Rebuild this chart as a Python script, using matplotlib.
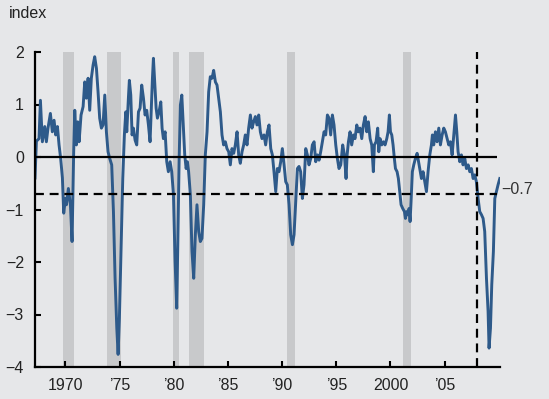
import numpy as np
import matplotlib
matplotlib.use('Agg')
import matplotlib.pyplot as plt

# index values (decimal year, index)
years = [1967.19, 1967.32, 1967.56, 1967.69, 1967.87, 1968.09, 1968.24, 1968.39, 1968.61, 1968.79,
         1968.95, 1969.10, 1969.26, 1969.41, 1969.56, 1969.72, 1969.84, 1970.00, 1970.09, 1970.27,
         1970.46, 1970.61, 1970.76, 1970.86, 1971.01, 1971.13, 1971.26, 1971.44, 1971.63, 1971.78,
         1971.93, 1972.09, 1972.24, 1972.39, 1972.55, 1972.70, 1972.86, 1973.01, 1973.16, 1973.32,
         1973.47, 1973.63, 1973.78, 1973.93, 1974.09, 1974.27, 1974.43, 1974.58, 1974.74, 1974.86,
         1974.98, 1975.14, 1975.29, 1975.44, 1975.57, 1975.66, 1975.81, 1975.90, 1976.03, 1976.15,
         1976.27, 1976.43, 1976.58, 1976.74, 1976.89, 1977.04, 1977.20, 1977.35, 1977.50, 1977.66,
         1977.81, 1977.94, 1978.03, 1978.12, 1978.24, 1978.37, 1978.49, 1978.64, 1978.80, 1978.92,
         1979.04, 1979.20, 1979.35, 1979.50, 1979.66, 1979.81, 1979.97, 1980.12, 1980.27, 1980.37,
         1980.49, 1980.61, 1980.74, 1980.89, 1981.01, 1981.14, 1981.26, 1981.37, 1981.53, 1981.68,
         1981.84, 1981.99, 1982.14, 1982.30, 1982.45, 1982.60, 1982.76, 1982.91, 1983.07, 1983.22,
         1983.37, 1983.53, 1983.68, 1983.84, 1983.99, 1984.14, 1984.30, 1984.45, 1984.60, 1984.76,
         1984.91, 1985.07, 1985.22, 1985.37, 1985.53, 1985.68, 1985.84, 1985.99, 1986.14, 1986.30,
         1986.45, 1986.60, 1986.76, 1986.91, 1987.07, 1987.22, 1987.37, 1987.53, 1987.68, 1987.84,
         1987.99, 1988.14, 1988.33, 1988.48, 1988.64, 1988.79, 1988.95, 1989.10, 1989.25, 1989.41,
         1989.56, 1989.71, 1989.87, 1990.02, 1990.18, 1990.33, 1990.48, 1990.64, 1990.79, 1990.95,
         1991.10, 1991.25, 1991.41, 1991.56, 1991.71, 1991.87, 1992.02, 1992.18, 1992.33, 1992.48,
         1992.64, 1992.79, 1992.95, 1993.10, 1993.25, 1993.41, 1993.56, 1993.71, 1993.87, 1994.02,
         1994.18, 1994.33, 1994.48, 1994.64, 1994.79, 1994.95, 1995.10, 1995.25, 1995.41, 1995.59,
         1995.75, 1995.90, 1996.00, 1996.12, 1996.27, 1996.42, 1996.58, 1996.73, 1996.89, 1997.04,
         1997.19, 1997.35, 1997.50, 1997.66, 1997.81, 1997.96, 1998.12, 1998.27, 1998.42, 1998.52,
         1998.67, 1998.82, 1998.92, 1999.04, 1999.19, 1999.35, 1999.50, 1999.66, 1999.78, 1999.90,
         2000.00, 2000.12, 2000.24, 2000.36, 2000.46, 2000.61, 2000.73, 2000.86, 2000.98, 2001.13,
         2001.29, 2001.38, 2001.50, 2001.59, 2001.72, 2001.81, 2001.90, 2002.02, 2002.15, 2002.30,
         2002.46, 2002.70, 2002.86, 2003.01, 2003.17, 2003.32, 2003.47, 2003.63, 2003.78, 2003.87,
         2003.99, 2004.15, 2004.30, 2004.46, 2004.61, 2004.77, 2004.92, 2005.07, 2005.23, 2005.38,
         2005.53, 2005.69, 2005.84, 2006.00, 2006.12, 2006.24, 2006.40, 2006.55, 2006.70, 2006.86,
         2007.01, 2007.17, 2007.32, 2007.47, 2007.63, 2007.78, 2007.93, 2008.09, 2008.24, 2008.40,
         2008.55, 2008.70, 2008.86, 2009.01, 2009.10, 2009.23, 2009.35, 2009.50, 2009.63, 2009.78,
         2009.93, 2010.09]
index = [-0.40, 0.30, 0.35, 1.08, 0.29, 0.58, 0.29, 0.55, 0.83, 0.48,
         0.70, 0.42, 0.58, 0.23, -0.03, -0.40, -1.07, -0.79, -0.91, -0.60,
         -0.91, -1.61, 0.10, 0.89, 0.23, 0.67, 0.29, 0.80, 0.96, 1.43,
         1.12, 1.50, 0.89, 1.50, 1.75, 1.91, 1.69, 1.24, 0.74, 0.55,
         0.61, 1.18, 0.48, 0.10, -0.03, -0.15, -1.04, -2.30, -3.26, -3.76,
         -3.07, -1.67, -0.41, 0.42, 0.86, 0.48, 1.12, 1.46, 1.18, 0.42,
         0.55, 0.32, 0.23, 0.86, 0.93, 1.37, 1.12, 0.80, 0.89, 0.61,
         0.29, 0.99, 1.50, 1.88, 1.43, 0.93, 0.74, 0.86, 1.05, 0.55,
         0.35, 0.48, -0.09, -0.28, -0.09, -0.28, -0.72, -1.99, -2.88, -1.67,
         -0.09, 0.99, 1.18, 0.55, 0.04, -0.22, -0.09, -0.28, -0.72, -1.80,
         -2.31, -1.48, -0.91, -1.42, -1.61, -1.55, -0.91, 0.04, 0.48, 1.24,
         1.53, 1.50, 1.65, 1.43, 1.37, 1.12, 0.86, 0.42, 0.23, 0.29,
         0.16, 0.10, -0.15, 0.16, 0.07, 0.23, 0.48, 0.04, -0.12, 0.10,
         0.23, 0.42, 0.23, 0.55, 0.80, 0.55, 0.67, 0.77, 0.61, 0.80,
         0.48, 0.35, 0.42, 0.23, 0.48, 0.61, 0.16, 0.04, -0.28, -0.66,
         -0.22, -0.28, -0.09, 0.16, -0.15, -0.47, -0.53, -0.91, -1.48, -1.67,
         -1.48, -0.85, -0.22, -0.18, -0.28, -0.79, -0.53, 0.16, 0.04, -0.15,
         -0.03, 0.23, 0.29, -0.09, 0.04, -0.06, 0.10, 0.29, 0.48, 0.42,
         0.80, 0.74, 0.42, 0.80, 0.61, 0.23, -0.03, -0.22, -0.15, 0.23,
         0.04, -0.41, 0.04, 0.29, 0.48, 0.23, 0.42, 0.35, 0.61, 0.48,
         0.55, 0.35, 0.61, 0.77, 0.48, 0.67, 0.35, 0.23, -0.28, 0.23,
         0.29, 0.55, 0.10, 0.35, 0.23, 0.29, 0.23, 0.35, 0.48, 0.80,
         0.48, 0.42, 0.23, -0.03, -0.22, -0.28, -0.41, -0.66, -0.91, -0.98,
         -1.04, -1.17, -1.04, -1.10, -0.98, -1.23, -0.85, -0.28, -0.15, -0.03,
         0.07, -0.22, -0.41, -0.28, -0.47, -0.66, -0.28, 0.04, 0.23, 0.42,
         0.23, 0.48, 0.29, 0.55, 0.23, 0.42, 0.55, 0.48, 0.35, 0.23,
         0.29, 0.04, 0.42, 0.80, 0.48, 0.10, -0.09, 0.04, -0.15, -0.03,
         -0.22, -0.15, -0.28, -0.22, -0.41, -0.34, -0.47, -0.79, -1.04, -1.10,
         -1.17, -1.42, -2.31, -2.94, -3.64, -3.26, -2.43, -1.80, -0.79, -0.66,
         -0.53, -0.41]

# recession bands (start, end) as drawn
rec_start = [1969.80, 1973.80, 1979.90, 1981.38, 1990.45, 2001.20]
rec_end = [1970.75, 1975.12, 1980.45, 1982.78, 1991.15, 2001.88]

tick_years = [1970, 1975, 1980, 1985, 1990, 1995, 2000, 2005]
tick_labels = ['1970', '\u201975', '\u201980', '\u201985', '\u201990', '\u201995', '2000', '\u201905']
y_ticks = [-4, -3, -2, -1, 0, 1, 2]

threshold = -0.7
peak_2007 = 2007.95

bg = '#e6e7e9'
plt.rcParams['font.family'] = ['Liberation Sans', 'DejaVu Sans']

fig = plt.figure(figsize=(5.49, 3.99), dpi=100, facecolor=bg)
ax = fig.add_axes([35/549, 32/399, 465/549, 315/399])
ax.set_facecolor(bg)

x0, x1 = 1967.19, 2010.11
ax.set_xlim(x0, x1)
ax.set_ylim(-4, 2)

for s, e in zip(rec_start, rec_end):
    ax.axvspan(s, e, color='#c8c9cb', lw=0, zorder=1)

ax.plot(years, index, color='#2e5a8a', lw=2.1, zorder=3)

# reference lines
ax.hlines(0, x0, 2009.84, color='black', lw=1.6, zorder=4)
ax.hlines(threshold, x0, 2009.84, color='black', lw=1.6, linestyles=(0, (4, 2.6)), zorder=4)
ax.vlines(peak_2007, -4, 2, color='black', lw=1.6, linestyles=(0, (4, 2.6)), zorder=4)
ax.text(2010.27, threshold + 0.08, '\u22120.7', fontsize=11.5, color='#333333',
        va='center', ha='left', clip_on=False)

ax.set_xticks(tick_years)
ax.set_xticklabels(tick_labels)
ax.set_yticks(y_ticks)
ax.set_yticklabels(['\u2212%d' % -v if v < 0 else '%d' % v for v in y_ticks])
ax.tick_params(direction='in', length=4, width=1.5, colors='black', labelcolor='#222222',
               labelsize=11.5)
ax.tick_params(axis='x', pad=8)
ax.tick_params(axis='y', pad=8)

for side in ['top', 'right']:
    ax.spines[side].set_visible(False)
for side in ['left', 'bottom']:
    ax.spines[side].set_linewidth(1.6)
    ax.spines[side].set_zorder(5)

fig.text(9/549, 1 - 6/399, 'index', fontsize=11.5, color='#222222', va='top', ha='left')

fig.savefig('out.png', dpi=100, facecolor=bg)
